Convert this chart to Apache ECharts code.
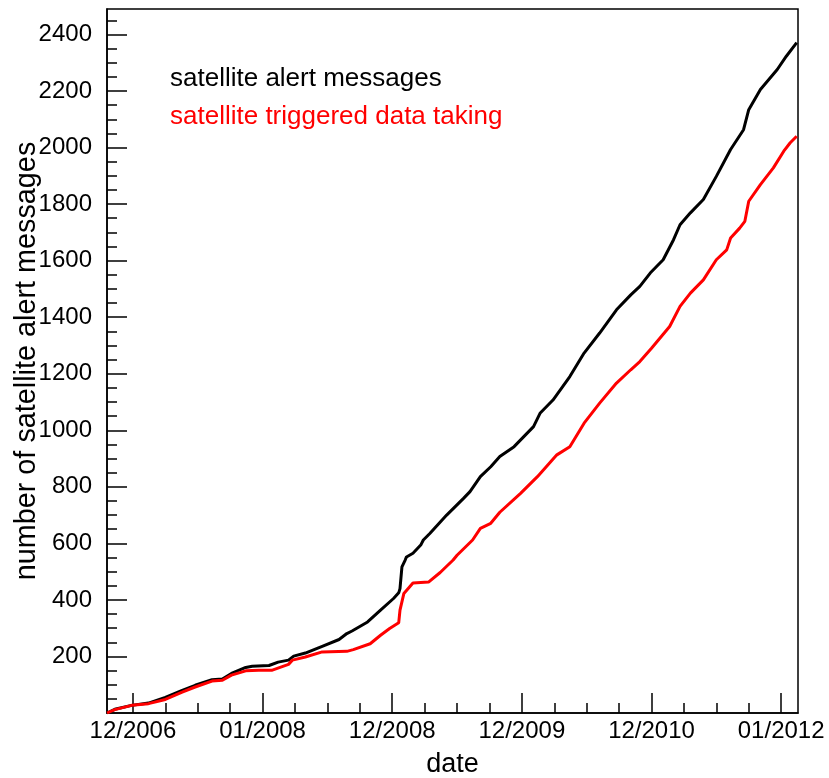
<!DOCTYPE html>
<html>
<head>
<meta charset="utf-8">
<script src="https://cdn.jsdelivr.net/npm/echarts@6/dist/echarts.min.js"></script>
<style>
  html, body { margin: 0; padding: 0; background: #fff; }
  #chart { width: 829px; height: 778px; }
</style>
</head>
<body>
<div id="chart"></div>
<script>
const FONT = '"Liberation Sans", Arial, Helvetica, sans-serif';

// Cumulative number of satellite alert messages (x in decimal years)
const alertYears = [
  2006.80, 2006.86, 2006.99, 2007.12, 2007.25, 2007.38, 2007.48, 2007.61, 2007.69, 2007.76,
  2007.87, 2007.92, 2008.05, 2008.12, 2008.20, 2008.24, 2008.33, 2008.46, 2008.59, 2008.65,
  2008.69, 2008.81, 2008.91, 2009.01, 2009.05, 2009.06, 2009.075, 2009.10, 2009.11, 2009.16,
  2009.22, 2009.24, 2009.29, 2009.42, 2009.55, 2009.60, 2009.68, 2009.76, 2009.83, 2009.94,
  2010.09, 2010.14, 2010.24, 2010.37, 2010.48, 2010.60, 2010.73, 2010.84, 2010.91, 2010.99,
  2011.09, 2011.17, 2011.22, 2011.30, 2011.40, 2011.50, 2011.61, 2011.71, 2011.75, 2011.84,
  2011.97, 2012.04, 2012.12
];
const alertCounts = [
  0, 13, 27, 35, 55, 80, 98, 118, 120, 140,
  161, 165, 168, 180, 187, 201, 212, 236, 260, 281,
  290, 322, 364, 405, 425, 440, 517, 541, 552, 565,
  594, 612, 635, 700, 759, 783, 836, 871, 907, 942,
  1013, 1060, 1107, 1190, 1273, 1344, 1426, 1479, 1509, 1556,
  1603, 1674, 1727, 1769, 1816, 1898, 1993, 2063, 2134, 2205,
  2276, 2323, 2371
];

// Cumulative number of satellite triggered data taking runs
const triggerYears = [
  2006.80, 2006.86, 2006.99, 2007.12, 2007.25, 2007.38, 2007.48, 2007.61, 2007.69, 2007.76,
  2007.87, 2007.97, 2008.07, 2008.20, 2008.23, 2008.33, 2008.46, 2008.47, 2008.65, 2008.70,
  2008.83, 2008.91, 2008.98, 2009.05, 2009.06, 2009.09, 2009.16, 2009.28, 2009.37, 2009.47,
  2009.50, 2009.62, 2009.68, 2009.76, 2009.83, 2009.99, 2010.12, 2010.27, 2010.37, 2010.48,
  2010.60, 2010.73, 2010.84, 2010.91, 2011.00, 2011.14, 2011.22, 2011.30, 2011.40, 2011.50,
  2011.58, 2011.61, 2011.68, 2011.72, 2011.75, 2011.84, 2011.94, 2012.02, 2012.07, 2012.12
];
const triggerCounts = [
  0, 12, 27, 33, 48, 74, 92, 113, 116, 134,
  149, 151, 151, 172, 187, 198, 216, 218, 218, 224,
  245, 275, 299, 319, 364, 423, 460, 463, 497, 541,
  558, 612, 653, 671, 710, 777, 836, 913, 942, 1025,
  1096, 1167, 1214, 1243, 1290, 1367, 1438, 1485, 1532, 1603,
  1638, 1680, 1715, 1739, 1810, 1869, 1928, 1987, 2017, 2040
];

// Axis ticks and labels
const xTickYears = [2007, 2008, 2009, 2010, 2011, 2012];
const xTickLabels = ['12/2006', '01/2008', '12/2008', '12/2009', '12/2010', '01/2012'];
const yTicks = [200, 400, 600, 800, 1000, 1200, 1400, 1600, 1800, 2000, 2200, 2400];

const X_MIN = 2006.80, X_MAX = 2012.13;
const Y_MIN = 0, Y_MAX = 2490;

const xMinor = [];
for (let v = 2007; v < X_MAX; v += 0.25) {
  const r = Math.round(v * 100) / 100;
  if (r % 1 !== 0) xMinor.push(r);
}
const yMinor = [];
for (let v = 50; v < Y_MAX; v += 50) {
  if (v % 200 !== 0) yMinor.push(v);
}

const zip = (xs, ys) => xs.map((x, i) => [x, ys[i]]);

const axisColor = '#000';
const lineW = 1.5;

const chart = echarts.init(document.getElementById('chart'), null, { renderer: 'canvas' });

chart.setOption({
  animation: false,
  backgroundColor: '#fff',
  grid: {
    left: 107, right: 31, top: 9, bottom: 65,
    outerBoundsMode: 'none',
    containLabel: false,
    show: true, borderColor: axisColor, borderWidth: lineW, backgroundColor: 'transparent'
  },
  legend: {
    orient: 'vertical',
    left: 160,
    top: 61,
    itemWidth: 0,
    itemHeight: 0,
    itemGap: 12,
    icon: 'none',
    selectedMode: false,
    textStyle: { fontSize: 26, fontFamily: FONT },
    data: [
      { name: 'satellite alert messages', textStyle: { color: '#000' } },
      { name: 'satellite triggered data taking', textStyle: { color: '#ff0000' } }
    ]
  },
  xAxis: [
    {
      type: 'value', position: 'bottom', min: X_MIN, max: X_MAX,
      axisLine: { show: true, lineStyle: { color: axisColor, width: lineW } },
      axisTick: { show: true, inside: true, length: 20, customValues: xTickYears,
                  lineStyle: { color: axisColor, width: lineW } },
      axisLabel: {
        show: true, customValues: xTickYears, margin: 6,
        fontSize: 24, fontFamily: FONT, color: '#000',
        formatter: v => xTickLabels[xTickYears.indexOf(v)]
      },
      splitLine: { show: false },
      name: 'date', nameLocation: 'middle', nameGap: 38, nameMoveOverlap: false,
      nameTextStyle: { fontSize: 27, fontFamily: FONT, color: '#000' }
    },
    {
      type: 'value', position: 'bottom', min: X_MIN, max: X_MAX,
      axisLine: { show: false },
      axisTick: { show: true, inside: true, length: 10, customValues: xMinor,
                  lineStyle: { color: axisColor, width: lineW } },
      axisLabel: { show: false },
      splitLine: { show: false }
    }
  ],
  yAxis: [
    {
      type: 'value', position: 'left', min: Y_MIN, max: Y_MAX,
      axisLine: { show: true, lineStyle: { color: axisColor, width: lineW } },
      axisTick: { show: true, inside: true, length: 20, customValues: yTicks,
                  lineStyle: { color: axisColor, width: lineW } },
      axisLabel: {
        show: true, customValues: yTicks, margin: 15,
        fontSize: 24, fontFamily: FONT, color: '#000',
        formatter: v => String(v)
      },
      splitLine: { show: false },
      name: 'number of satellite alert messages', nameLocation: 'middle', nameGap: 65,
      nameMoveOverlap: false,
      nameTextStyle: { fontSize: 28.8, fontFamily: FONT, color: '#000' }
    },
    {
      type: 'value', position: 'left', min: Y_MIN, max: Y_MAX,
      axisLine: { show: false },
      axisTick: { show: true, inside: true, length: 10, customValues: yMinor,
                  lineStyle: { color: axisColor, width: lineW } },
      axisLabel: { show: false },
      splitLine: { show: false }
    }
  ],
  series: [
    {
      name: 'satellite alert messages', type: 'line',
      xAxisIndex: 0, yAxisIndex: 0,
      data: zip(alertYears, alertCounts),
      showSymbol: false, symbol: 'none',
      lineStyle: { color: '#000', width: 3 },
      itemStyle: { color: '#000' }
    },
    {
      name: 'satellite triggered data taking', type: 'line',
      xAxisIndex: 0, yAxisIndex: 0,
      data: zip(triggerYears, triggerCounts),
      showSymbol: false, symbol: 'none',
      lineStyle: { color: '#ff0000', width: 3 },
      itemStyle: { color: '#ff0000' }
    }
  ]
});
</script>
</body>
</html>
